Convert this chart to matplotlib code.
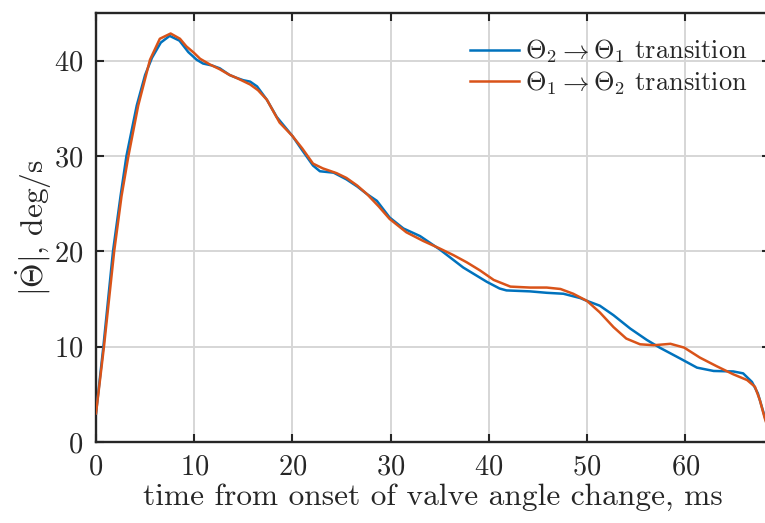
import matplotlib
matplotlib.use("Agg")
import matplotlib.pyplot as plt

plt.rcParams['font.family'] = 'serif'
plt.rcParams['font.serif'] = ['cmr10']
plt.rcParams['mathtext.fontset'] = 'cm'
plt.rcParams['axes.formatter.use_mathtext'] = True

# Theta2 -> Theta1 transition (blue)
t_21 = [0, 0.75, 1.73, 2.5, 3.1, 4.15, 5.0, 5.7, 6.6, 7.5, 8.5, 9.4, 10.25, 10.9, 11.8,
        12.6, 13.6, 14.3, 15.0, 15.7, 16.4, 17.4, 18.4, 19.2, 20.0, 21.0, 22.1, 22.8,
        24.2, 25.5, 26.6, 27.6, 28.6, 29.9, 31.3, 33.0, 35.0, 37.4, 39.8, 41.1, 41.8,
        44.2, 45.9, 47.6, 49.3, 50.0, 51.3, 52.7, 54.4, 56.1, 57.4, 59.5, 61.2, 62.9,
        64.9, 65.9, 66.8, 67.4, 68.1, 68.6]
v_21 = [3.0, 10, 20, 25.8, 30.0, 35.3, 38.5, 40.3, 41.9, 42.6, 42.1, 40.9, 40.1, 39.7, 39.5,
        39.2, 38.5, 38.2, 37.95, 37.8, 37.3, 35.9, 34.1, 33.1, 32.1, 30.6, 29.0, 28.4,
        28.25, 27.55, 26.8, 26.0, 25.3, 23.55, 22.4, 21.6, 20.2, 18.3, 16.8, 16.1, 15.9,
        15.8, 15.65, 15.55, 15.1, 14.8, 14.3, 13.3, 11.9, 10.7, 9.9, 8.75, 7.8, 7.45,
        7.4, 7.2, 6.3, 5.1, 2.65, 1.0]

# Theta1 -> Theta2 transition (orange)
t_12 = [0, 0.81, 1.85, 2.6, 3.3, 4.3, 5.5, 6.5, 7.6, 8.55, 9.2, 10.0, 10.6, 11.6, 12.6,
        13.6, 14.3, 15.7, 16.5, 17.4, 18.7, 20.0, 21.0, 22.1, 23.1, 24.5, 25.5, 26.6,
        27.6, 28.8, 29.9, 31.6, 33.3, 35.0, 36.4, 37.75, 39.1, 40.5, 42.2, 44.2, 45.9,
        47.3, 48.6, 50.0, 51.3, 52.7, 54.0, 55.4, 56.8, 58.5, 59.9, 61.5, 63.2, 64.9,
        66.3, 67.1, 67.6, 68.1, 68.6]
v_12 = [3.0, 10, 20, 25.8, 30.0, 35.3, 40.1, 42.3, 42.85, 42.3, 41.5, 40.8, 40.2, 39.6, 39.1,
        38.5, 38.2, 37.5, 36.9, 35.9, 33.5, 32.1, 30.8, 29.2, 28.7, 28.2, 27.7, 26.9,
        26.0, 24.7, 23.4, 22.0, 21.1, 20.3, 19.6, 18.85, 18.0, 17.0, 16.3, 16.2, 16.2,
        16.05, 15.55, 14.8, 13.6, 12.05, 10.85, 10.25, 10.15, 10.3, 9.9, 8.85, 7.95, 7.1,
        6.5, 5.8, 4.4, 2.5, 0.9]

labels = [r'$\Theta_2 \rightarrow \Theta_1$ transition',
          r'$\Theta_1 \rightarrow \Theta_2$ transition']
xticks = [0, 10, 20, 30, 40, 50, 60]
yticks = [0, 10, 20, 30, 40]

W, H = 765, 523
fig = plt.figure(figsize=(W / 100, H / 100), dpi=100)
R = 770
ax = fig.add_axes([96 / W, (H - 442) / H, (R - 96) / W, (442 - 13) / H])

axc = '#262626'
ax.plot(t_21, v_21, color='#0072BD', lw=1.8, label=labels[0], zorder=3)
ax.plot(t_12, v_12, color='#D95319', lw=1.8, label=labels[1], zorder=3)

ax.set_xlim(0, (R - 96) / 9.82)
ax.set_ylim(0, 45)
ax.set_xticks(xticks)
ax.set_yticks(yticks)
ax.grid(True, color='#d6d6d6', lw=1.4)
ax.set_axisbelow(True)
for s in ax.spines.values():
    s.set_color(axc)
    s.set_linewidth(1.7)
ax.tick_params(direction='in', length=6, width=1.5, color=axc, labelcolor=axc,
               labelsize=20.5, top=True, right=True, pad=9)

ax.set_xlabel('time from onset of valve angle change, ms', fontsize=22.6, color=axc, labelpad=2)
ax.set_ylabel(r'$|\dot{\Theta}|$, deg/s', fontsize=22.6, color=axc, labelpad=0)

leg = ax.legend(loc='upper left', bbox_to_anchor=(470 / W, 1 - 38 / H),
                bbox_transform=fig.transFigure, frameon=False, fontsize=19,
                handlelength=1.85, handletextpad=0.25, labelspacing=0.15,
                borderpad=0, borderaxespad=0)
for txt in leg.get_texts():
    txt.set_color(axc)

fig.savefig('out.png', dpi=100)
